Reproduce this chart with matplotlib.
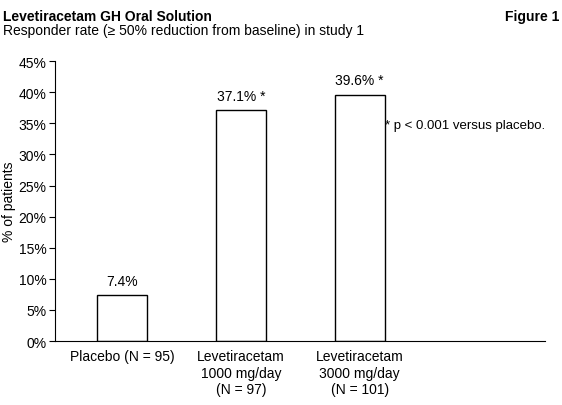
import matplotlib
matplotlib.use("Agg")
import matplotlib.pyplot as plt

plt.rcParams['font.family'] = ['Liberation Sans Narrow', 'Liberation Sans', 'DejaVu Sans']

categories = ["Placebo (N = 95)", "Levetiracetam\n1000 mg/day\n(N = 97)", "Levetiracetam\n3000 mg/day\n(N = 101)"]
values = [7.4, 37.1, 39.6]
labels = ["7.4%", "37.1% *", "39.6% *"]
yticks = [0, 5, 10, 15, 20, 25, 30, 35, 40, 45]
fs = 10

fig = plt.figure(figsize=(5.62, 4.06), dpi=100)
ax = fig.add_axes([0.0979, 0.1576, 0.872, 0.6894])
x = list(range(len(values)))
ax.bar(x, values, width=0.42, color='white', edgecolor='black', linewidth=1)
for xi, v, l in zip(x, values, labels):
    ax.text(xi, v + 1.2, l, ha='center', va='bottom', fontsize=fs)
ax.set_xlim(-0.564, 3.56)
ax.set_ylim(0, 45)
ax.set_yticks(yticks)
ax.set_yticklabels([f"{t}%" for t in yticks], fontsize=fs)
ax.set_xticks(x)
ax.set_xticklabels(categories, fontsize=fs, va='top')
ax.tick_params(axis='x', length=0, pad=6)
ax.tick_params(axis='y', length=4, pad=2)
ax.spines['top'].set_visible(False)
ax.spines['right'].set_visible(False)
ax.set_ylabel("% of patients", fontsize=fs, labelpad=2)
ax.text(2.215, 34.7, "* p < 0.001 versus placebo.", fontsize=fs - 0.5, va='center')

fig.text(0.005, 0.975, "Levetiracetam GH Oral Solution", fontsize=fs, fontweight='bold', va='top')
fig.text(0.005, 0.94, "Responder rate (\u2265 50% reduction from baseline) in study 1", fontsize=fs, va='top')
fig.text(0.995, 0.975, "Figure 1", fontsize=fs, fontweight='bold', va='top', ha='right')
fig.savefig("out.png", dpi=100)
